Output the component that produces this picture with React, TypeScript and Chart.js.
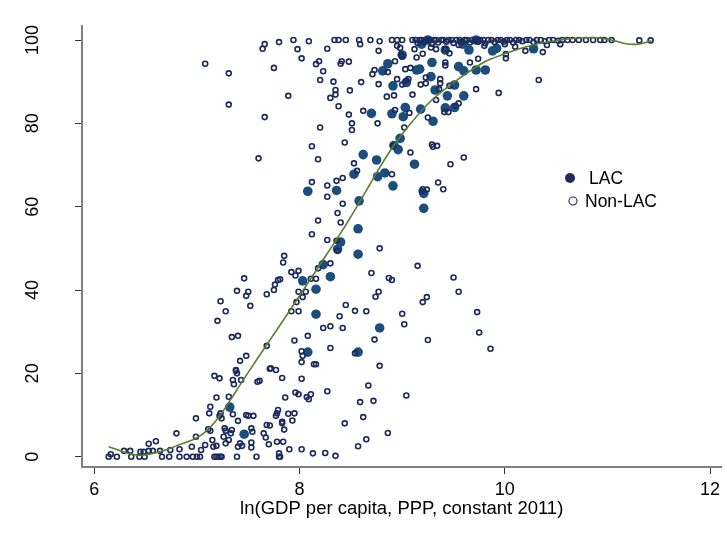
import React, { useEffect, useRef } from "react";
import { Chart, registerables } from "chart.js";
Chart.register(...registerables);

const xTicks = [6, 8, 10, 12];
const yTicks = [0, 20, 40, 60, 80, 100];
const legendLabels = ["LAC", "Non-LAC"];
const xTitle = "ln(GDP per capita, PPP, constant 2011)";

const lacX = [8.08, 8.36, 8.53, 8.75, 8.76, 8.83, 8.91, 9.12, 8.62, 8.92, 8.96, 8.98, 8.70, 8.90, 9.01, 9.03, 9.18, 9.30, 9.44, 9.60, 9.51, 9.55, 9.60, 9.32, 9.29, 8.91, 9.04, 8.86, 8.81, 9.00, 9.14, 9.17, 9.28, 9.42, 9.65, 9.59, 9.25, 9.19, 9.42, 9.51, 9.72, 10.28, 9.88, 9.92, 9.81, 9.72, 8.58, 8.57, 8.40, 8.37, 8.57, 8.23, 8.30, 8.03, 8.16, 8.16, 8.78, 8.08, 8.57, 9.21, 9.21, 7.32, 7.46];
const lacY = [63.7, 63.9, 67.8, 71.2, 67.2, 68.1, 65.0, 70.2, 72.5, 74.7, 73.7, 76.4, 82.4, 82.3, 81.6, 83.8, 83.4, 80.5, 86.6, 86.6, 89.2, 93.6, 92.6, 88.0, 94.6, 89.0, 89.8, 94.3, 92.6, 96.4, 92.8, 93.0, 91.2, 97.6, 97.6, 99.0, 100, 99.0, 83.7, 83.8, 92.8, 97.9, 97.4, 98.0, 92.8, 100, 61.4, 54.7, 51.5, 49.8, 48.6, 46.1, 43.2, 42.2, 40.2, 34.2, 30.9, 25.1, 25.1, 59.6, 63.2, 11.9, 5.4];

const nonLacX = [
  7.08, 7.31, 7.31, 7.60, 7.66, 7.64, 7.66, 7.75, 7.80, 7.94, 8.09, 8.34, 8.38, 8.45, 8.58, 8.59, 8.69, 8.78, 8.77, 8.90, 8.95, 9.00, 8.95, 7.98, 8.02, 8.27, 8.16, 8.19, 8.23, 8.20, 8.33, 8.35, 8.30, 8.35, 8.38, 8.40, 8.41, 8.48, 8.60, 8.49, 7.89, 8.20, 8.12, 8.18, 8.48, 8.51, 8.51, 8.44, 8.62, 8.53, 8.56, 8.42, 8.36, 8.27, 8.12, 8.27, 8.71, 8.73, 8.86, 8.77, 8.85, 8.92, 8.93, 8.95, 9.00, 9.04, 9.06, 9.03, 9.08, 9.10, 8.93, 9.07, 8.76, 9.02, 8.91, 9.08, 8.90, 8.99, 9.00, 8.98, 9.12, 9.14, 9.20, 9.23, 9.18, 9.23, 9.37, 9.37, 9.36, 9.33, 9.42, 9.42, 9.46, 9.42, 9.46, 9.55, 9.52, 9.41, 9.45, 9.66, 9.72, 9.74, 9.25, 9.29, 9.34, 9.30, 9.60, 9.47, 9.35, 9.40, 9.19, 9.20, 9.24, 9.94, 10.33, 10.01, 10.01, 10.20, 10.37, 10.41, 11.31, 11.42,
  7.46, 7.39, 7.50, 7.48, 7.23, 7.28, 7.52, 7.20, 7.68, 7.76, 7.75, 7.79, 7.34, 7.40, 7.68, 7.48, 7.42, 7.38, 7.71, 8.42, 8.37, 8.18, 8.40, 8.12, 8.27, 8.36, 8.37, 8.78, 7.85, 7.84, 8.30, 8.18, 7.92, 7.99, 7.96, 7.81, 8.11, 8.16, 8.70, 8.87, 8.90, 9.15, 9.50, 9.55, 8.77, 8.74, 8.06, 7.99, 8.03, 7.97, 7.92, 7.99, 8.45, 8.54, 8.65, 8.39, 8.23, 8.30, 8.42, 8.08, 7.95, 8.73, 9.00, 9.02, 9.20, 9.24, 9.25, 9.73, 9.75, 8.30, 8.02, 8.03, 8.02, 8.14, 8.16, 8.54, 8.78, 7.72, 7.77, 9.86,
  6.14, 6.16, 6.22, 6.29, 6.35, 6.36, 6.45, 6.48, 6.44, 6.49, 6.53, 6.60, 6.53, 6.57, 6.64, 6.66, 6.74, 6.73, 6.80, 6.83, 6.83, 6.90, 6.96, 7.00, 7.03, 6.95, 6.99, 6.99, 7.04, 7.08, 7.11, 7.13, 7.12, 7.13, 7.15, 7.16, 7.19, 7.17, 7.19, 7.21, 7.23, 7.24, 7.19, 7.17, 7.22, 7.22, 7.24, 7.23, 7.27, 7.28, 7.26, 7.28, 7.31, 7.33, 7.34, 7.31, 7.35, 7.40, 7.35, 7.36, 7.38, 7.39, 7.43, 7.40, 7.39, 7.42, 7.44, 7.48, 7.50, 7.53, 7.54, 7.55, 7.53, 7.53, 7.58, 7.59, 7.65, 7.67, 7.68, 7.71, 7.78, 7.78, 7.79, 7.61, 7.83, 8.02, 7.86, 7.96, 7.99, 8.07, 8.09, 8.11, 8.27, 8.67, 8.59, 8.72, 9.04, 8.44, 8.62, 8.86, 8.65, 8.57, 8.35, 8.25, 8.13, 8.02, 7.90, 7.84, 7.80, 7.80, 7.81, 7.77, 7.89, 7.95, 7.93, 7.83, 7.83, 7.85, 7.70,
  9.10, 9.13, 9.15, 9.17, 9.19, 9.21, 9.24, 9.27, 9.29, 9.31, 9.33, 9.35, 9.38, 9.40, 9.43, 9.45, 9.48, 9.50, 9.53, 9.56, 9.58, 9.61, 9.63, 9.66, 9.68, 9.71, 9.74, 9.76, 9.79, 9.81, 9.84, 9.87, 9.90, 9.93, 9.96, 9.99, 10.02, 10.05, 10.08, 10.11, 10.14, 10.17, 10.21, 10.24, 10.28, 10.31, 10.35, 10.39, 10.43, 10.47, 10.52, 10.56, 10.61, 10.66, 10.72, 10.79, 10.86, 10.93, 10.97, 11.04,
  10.00, 10.54, 9.29, 9.28, 9.33, 9.55, 9.80, 10.10
];
const nonLacY = [
  94.3, 92.0, 84.5, 71.6, 81.5, 97.9, 99.0, 93.3, 99.5, 100, 99.7, 100, 100, 100, 100, 99.0, 100, 99.7, 97.4, 100, 100, 100, 98.6, 97.8, 95.6, 97.9, 94.2, 94.9, 92.5, 90.4, 90.0, 88.0, 86.1, 86.9, 84.1, 94.3, 94.9, 94.8, 89.9, 87.9, 86.6, 79.0, 74.5, 71.4, 82.1, 80.0, 78.4, 75.4, 83.0, 70.4, 68.6, 66.9, 66.2, 65.1, 65.9, 62.4, 91.8, 92.8, 92.3, 89.4, 86.4, 86.7, 94.9, 90.6, 89.3, 90.2, 90.6, 93.0, 93.3, 86.9, 83.2, 82.5, 80.0, 79.0, 74.6, 73.0, 67.8, 96.5, 96.0, 98.1, 97.8, 95.8, 96.7, 89.6, 89.3, 91.0, 90.6, 89.6, 88.2, 85.6, 94.6, 93.9, 96.8, 97.8, 89.0, 84.8, 84.2, 82.7, 82.7, 94.6, 88.2, 95.5, 81.4, 74.9, 74.6, 74.4, 71.8, 70.2, 65.8, 64.2, 63.7, 64.2, 64.1, 87.3, 90.4, 95.6, 96.6, 97.4, 97.1, 98.8, 99.9, 99.9,
  42.8, 39.8, 39.6, 38.6, 37.3, 34.9, 36.2, 32.6, 39.0, 41.3, 40.0, 42.4, 28.7, 29.0, 26.6, 24.2, 23.0, 20.8, 21.1, 60.7, 58.5, 56.7, 56.2, 53.4, 52.0, 51.8, 49.4, 50.0, 48.2, 46.6, 46.4, 45.2, 44.3, 44.6, 43.5, 42.6, 42.7, 42.7, 44.1, 42.9, 42.4, 45.8, 43.0, 39.6, 39.6, 38.4, 39.6, 39.6, 38.3, 37.1, 34.9, 34.9, 36.4, 35.0, 34.9, 33.7, 30.9, 31.3, 30.9, 29.0, 27.9, 28.1, 34.3, 31.8, 37.1, 38.3, 28.0, 34.7, 29.8, 26.1, 25.3, 24.2, 22.7, 22.2, 22.2, 24.8, 21.8, 21.2, 20.8, 25.9,
  0, 0.6, 0, 1.4, 1.4, 0, 1.2, 1.2, 0, 0, 3.1, 3.7, 1.4, 1.4, 1.4, 0, 1.6, 0, 5.6, 1.8, 0, 0, 0, 0, 0, 2.4, 4.8, 9.2, 1.6, 2.8, 6.6, 6.2, 10.4, 12.0, 4.0, 2.4, 2.6, 0, 0, 0, 0, 0, 14.2, 19.4, 18.8, 9.8, 9.2, 10.4, 6.8, 6.2, 4.8, 3.2, 14.4, 5.6, 6.4, 4.0, 10.2, 8.6, 18.4, 17.4, 20.6, 20.0, 18.4, 2.4, 0, 3.2, 2.6, 10.0, 9.8, 6.8, 6.0, 9.8, 2.2, 3.4, 0, 18.0, 5.6, 4.6, 7.6, 7.5, 3.6, 10.4, 11.2, 18.2, 18.9, 18.7, 14.2, 15.4, 15.0, 14.3, 13.8, 15.0, 15.7, 17.1, 13.1, 13.4, 14.7, 8.0, 9.5, 5.7, 4.2, 2.5, 0.2, 0.9, 0.8, 1.8, 1.8, 3.6, 0.8, 0, 0, 9.8, 10.3, 10.4, 8.7, 8.4, 8.0, 6.5, 3.0,
  100, 100, 99.3, 100, 100, 99.5, 100, 100, 99.2, 100, 100, 99.4, 100, 100, 99.6, 100, 100, 99.3, 100, 100, 99.5, 100, 100, 99.4, 100, 100, 99.6, 100, 100, 99.2, 100, 100, 99.5, 100, 100, 99.6, 100, 100, 99.4, 100, 100, 99.7, 100, 100, 99.5, 100, 100, 99.7, 100, 100, 99.8, 100, 100, 100, 100, 100, 100, 100, 100, 100,
  99.0, 99.0, 99.1, 98.2, 97.8, 98.8, 98.6, 98.4
];

const fitX = [6.14, 6.41, 6.64, 6.80, 7.03, 7.19, 7.32, 7.43, 7.58, 7.81, 7.94, 8.26, 8.46, 8.62, 8.91, 9.24, 9.49, 9.75, 9.88, 10.21, 10.53, 10.86, 11.04, 11.18, 11.30, 11.43];
const fitY = [2.4, 0.4, 1.2, 2.6, 5.0, 8.8, 13.4, 17.6, 23.2, 31.6, 36.4, 48.4, 56.0, 62.6, 74.4, 84.4, 89.6, 94.0, 95.6, 98.4, 100.0, 100.6, 100.0, 99.1, 99.0, 99.8];

const FONT = '"Liberation Sans", Arial, sans-serif';
const NAVY = "#1c2b5c";
const LAC_FILL = "#1b4e7d";
const GREEN = "#5a7f2c";

const pts = (xs: number[], ys: number[]) => xs.map((x, i) => ({ x, y: ys[i] }));

const customPlugin = {
  id: "stataExtras",
  afterDraw(chart: any) {
    const ctx = chart.ctx;
    const ys = chart.scales.y;
    ctx.save();
    ctx.fillStyle = "#000";
    ctx.font = `18px ${FONT}`;
    ctx.textAlign = "center";
    ctx.textBaseline = "middle";
    ys.ticks.forEach((t: any) => {
      const py = ys.getPixelForValue(t.value);
      ctx.save();
      ctx.translate(33, py);
      ctx.rotate(-Math.PI / 2);
      ctx.fillText(String(t.value), 0, 0);
      ctx.restore();
    });
    // legend
    ctx.font = `17.5px ${FONT}`;
    ctx.textAlign = "left";
    ctx.beginPath();
    ctx.arc(570, 178, 5, 0, Math.PI * 2);
    ctx.fillStyle = NAVY;
    ctx.fill();
    ctx.fillStyle = "#000";
    ctx.fillText(legendLabels[0], 589, 179);
    ctx.beginPath();
    ctx.arc(573, 201, 4, 0, Math.PI * 2);
    ctx.strokeStyle = NAVY;
    ctx.lineWidth = 1.1;
    ctx.stroke();
    ctx.fillText(legendLabels[1], 585, 202);
    ctx.restore();
  },
};

export default function App() {
  const ref = useRef<HTMLCanvasElement>(null);
  useEffect(() => {
    if (!ref.current) return;
    const chart = new Chart(ref.current, {
      type: "scatter",
      data: {
        datasets: [
          {
            type: "line",
            label: "fit",
            data: pts(fitX, fitY),
            borderColor: GREEN,
            borderWidth: 1.6,
            pointRadius: 0,
            fill: false,
            tension: 0.4,
            order: 0,
          } as any,
          {
            label: "Non-LAC",
            data: pts(nonLacX, nonLacY),
            pointRadius: 2.5,
            pointBorderWidth: 1.6,
            borderColor: NAVY,
            backgroundColor: "rgba(0,0,0,0)",
            order: 1,
          },
          {
            label: "LAC",
            data: pts(lacX, lacY),
            pointRadius: 4.8,
            pointBorderWidth: 0,
            borderColor: LAC_FILL,
            backgroundColor: LAC_FILL,
            order: 2,
          },
        ],
      },
      options: {
        responsive: false,
        animation: false,
        layout: { padding: { top: 26, right: 5, left: 0, bottom: 0 } },
        plugins: { legend: { display: false }, tooltip: { enabled: false } },
        scales: {
          x: {
            type: "linear",
            min: 5.88,
            max: 12.11,
            afterBuildTicks: (s: any) => {
              s.ticks = xTicks.map((v) => ({ value: v }));
            },
            afterFit: (s: any) => {
              s.height = 68;
            },
            grid: { drawOnChartArea: false, drawTicks: true, tickLength: 7, color: "#333", lineWidth: 1 },
            border: { display: true, color: "#808080", width: 2 },
            ticks: { color: "#000", font: { family: FONT, size: 18 }, padding: 5, maxRotation: 0, autoSkip: false },
            title: {
              display: true,
              text: xTitle,
              color: "#000",
              font: { family: FONT, size: 18.5 },
              padding: { top: 0, bottom: 15 },
            },
          },
          y: {
            type: "linear",
            min: -2.47,
            max: 103.36,
            afterBuildTicks: (s: any) => {
              s.ticks = yTicks.map((v) => ({ value: v }));
            },
            afterFit: (s: any) => {
              s.width = 82;
            },
            grid: { drawOnChartArea: false, drawTicks: true, tickLength: 7, color: "#333", lineWidth: 1 },
            border: { display: true, color: "#808080", width: 2 },
            ticks: { display: false },
          },
        },
      },
      plugins: [customPlugin],
    });
    return () => chart.destroy();
  }, []);
  return (
    <div style={{ position: "fixed", left: 0, top: 0, width: 727, height: 535, background: "#fff" }}>
      <canvas ref={ref} width={727} height={535} />
    </div>
  );
}
